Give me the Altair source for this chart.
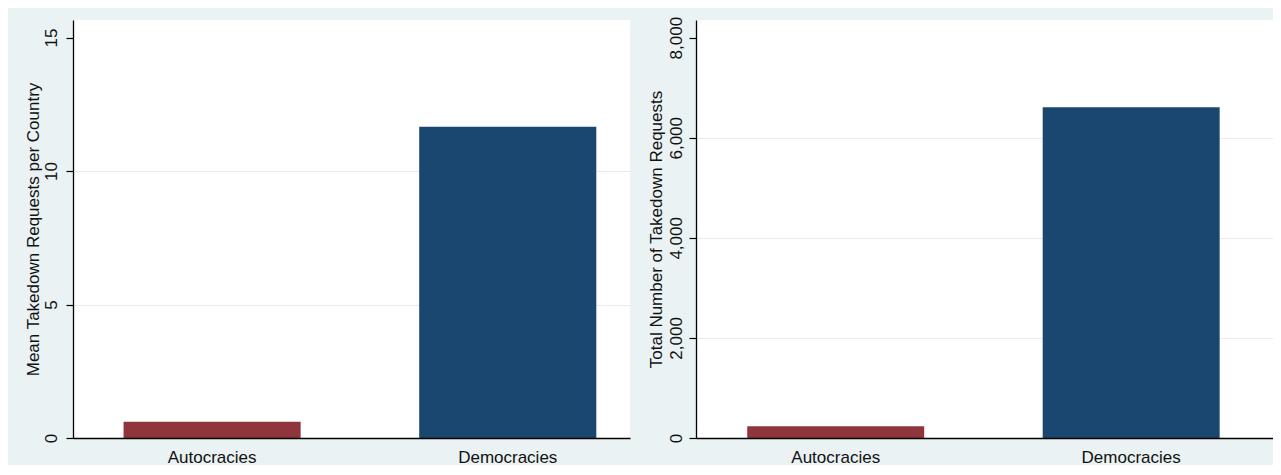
import altair as alt
import pandas as pd

categories = ["Autocracies", "Democracies"]
mean_requests = [0.61, 11.66]
total_requests = [235, 6610]
bar_colors = ["#90353b", "#1a476f"]
left_ticks = [0, 5, 10, 15]
right_ticks = [0, 2000, 4000, 6000, 8000]
left_title = "Mean Takedown Requests per Country"
right_title = "Total Number of Takedown Requests"

df = pd.DataFrame({"group": categories, "mean": mean_requests, "total": total_requests})

FONT = "Liberation Sans"
TXT = "#111111"

color = alt.Color("group:N", scale=alt.Scale(domain=categories, range=bar_colors), legend=None)


def panel(field, title, ymax, ticks, fmt, width, p_outer, align, label_pad, title_x):
    grid_color = {
        "condition": {"test": f"datum.value === 0 || datum.value === {ticks[-1]}", "value": "transparent"},
        "value": "#e4ecee",
    }
    x = alt.X(
        "group:N", sort=categories, title=None,
        scale=alt.Scale(paddingInner=0.401, paddingOuter=p_outer, align=align),
        axis=alt.Axis(labelAngle=0, ticks=False, tickSize=0, labelPadding=11,
                      labelFontSize=17, labelFont=FONT, labelColor=TXT,
                      domainColor="#000000", domainWidth=1.3, grid=False, zindex=1),
    )
    y = alt.Y(
        f"{field}:Q", title=title,
        scale=alt.Scale(domain=[0, ymax], nice=False, zero=True),
        axis=alt.Axis(values=ticks, format=fmt, labelAngle=270, labelAlign="center",
                      labelBaseline="alphabetic", labelPadding=label_pad, labelFontSize=17,
                      labelFont=FONT, labelColor=TXT, tickSize=7, tickColor="#000000",
                      tickWidth=1.2, domainColor="#000000", domainWidth=1.3,
                      grid=True, gridColor=grid_color, gridWidth=1,
                      titleFont=FONT, titleFontSize=17, titleFontWeight="normal",
                      titleColor=TXT, titleAngle=270, titleAlign="center",
                      titleBaseline="alphabetic", titleX=title_x, titleY=209),
    )
    return alt.Chart(df).mark_bar().encode(x=x, y=y, color=color).properties(width=width, height=418)


left = panel("mean", left_title, 15.66, left_ticks, "d", 557, 0.1425, 0.6, 10, -35)
right = panel("total", right_title, 8353, right_ticks, ",d", 577, 0.177, 0.49, 7.7, -35)

chart = alt.hconcat(left, right, spacing=66, bounds="flush").properties(
    padding={"left": 15, "top": 8, "right": 0, "bottom": 0},
    background="#eaf2f3",
).configure_view(fill="white", strokeWidth=0)

chart.save("out.html", embed_options={"renderer": "svg", "actions": False})
